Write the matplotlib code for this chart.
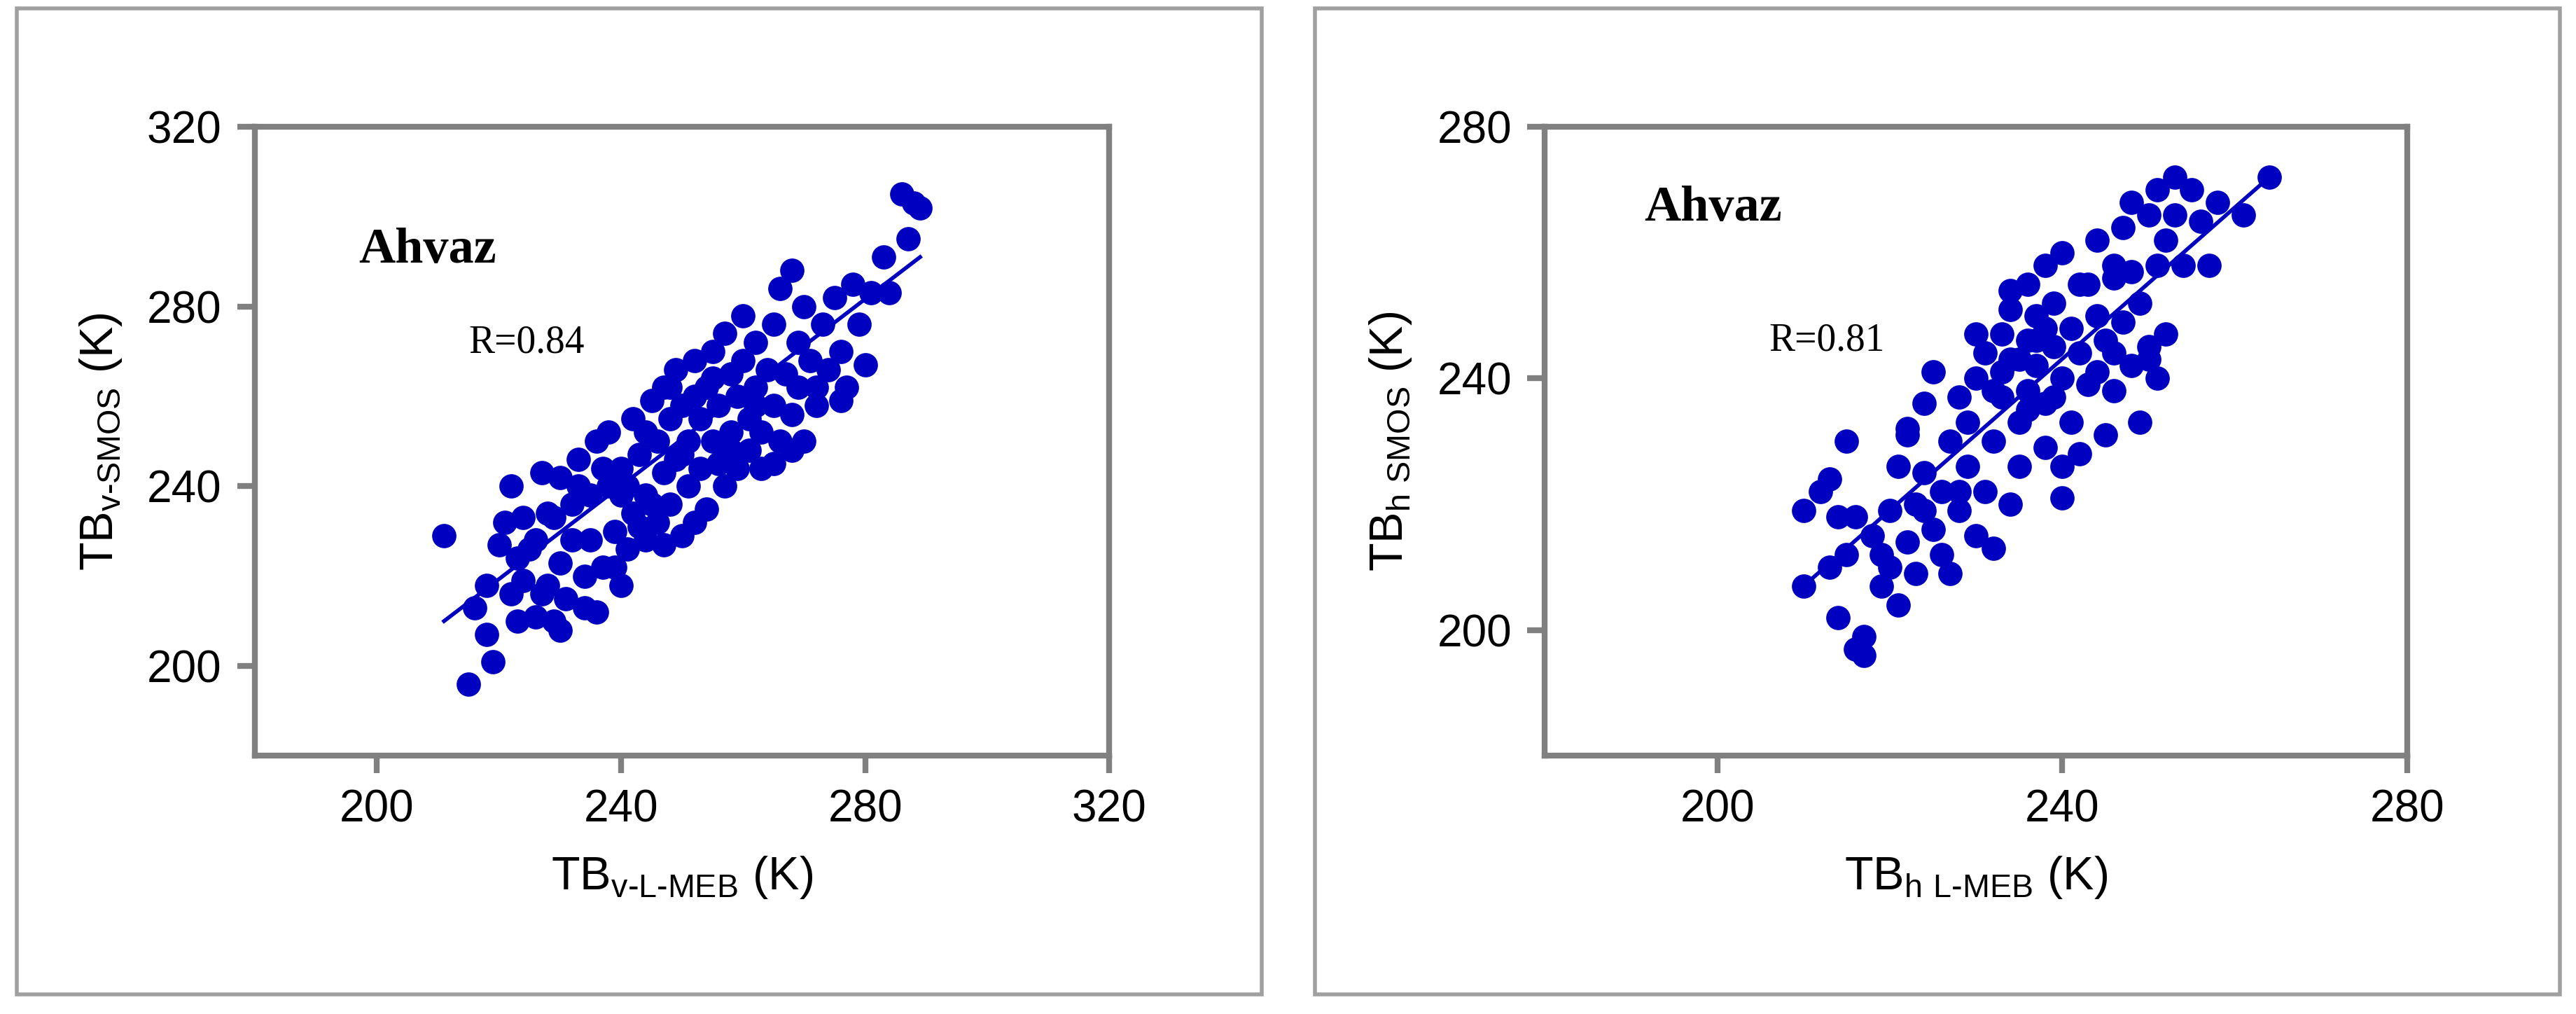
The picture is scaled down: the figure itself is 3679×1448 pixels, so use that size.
import matplotlib.pyplot as plt
from matplotlib.patches import Rectangle

# Left panel: TBv  (L-MEB vs SMOS)
v_pts = [(211,229),(215,196),(218,207),(219,201),(216,213),(218,218),(220,227),(221,232),(222,240),(222,216),
         (223,210),(224,219),(225,226),(226,211),(227,243),(228,234),(228,218),(229,210),(230,223),(230,242),
         (231,215),(232,236),(233,246),(234,213),(235,228),(235,238),(236,250),(237,222),(238,240),(238,252),
         (239,230),(240,244),(240,218),(241,226),(242,255),(242,234),(243,247),(244,238),(244,228),(245,259),
         (246,250),(246,232),(247,262),(247,243),(248,255),(248,236),(249,266),(249,246),(250,258),(250,229),
         (251,250),(251,240),(252,268),(252,260),(253,255),(253,244),(254,235),(254,262),(255,270),(255,250),
         (256,245),(256,258),(257,274),(257,240),(258,265),(258,252),(259,260),(259,244),(260,278),(260,268),
         (261,255),(261,248),(262,272),(262,262),(263,244),(263,252),(264,266),(265,276),(265,258),(266,250),
         (266,284),(267,265),(268,288),(268,256),(269,272),(269,262),(270,280),(270,250),(271,268),(272,258),
         (273,276),(274,266),(275,282),(276,270),(277,262),(278,285),(279,276),(280,267),(281,283),(283,291),
         (284,283),(286,305),(287,295),(288,303),(289,302),(250,247),(245,236),(247,227),(252,232),(243,231),
         (239,222),(236,212),(230,208),(227,216),(224,233),(232,228),(234,220),(258,248),(255,264),(262,258),
         (248,262),(244,252),(241,240),(265,245),(268,248),(272,262),(276,259),(240,238),(237,244),(233,240),
         (229,233),(226,228),(223,224)]
v_fit_x = [211, 289]
v_fit_y = [210, 291]

# Right panel: TBh
h_pts = [(210,219),(210,207),(212,222),(213,224),(214,218),(214,202),(215,212),(215,230),(216,197),(217,196),
         (217,199),(218,215),(219,207),(219,212),(220,219),(220,210),(221,226),(221,204),(222,214),(222,231),
         (223,209),(223,220),(224,236),(224,225),(225,216),(225,241),(226,212),(226,222),(227,230),(227,209),
         (228,237),(228,219),(229,226),(229,233),(230,215),(230,240),(231,222),(231,244),(232,230),(232,213),
         (233,237),(233,247),(234,220),(234,243),(234,251),(235,233),(235,226),(236,246),(236,255),(236,238),
         (237,242),(237,250),(238,229),(238,258),(238,236),(239,245),(239,252),(240,240),(240,260),(240,221),
         (241,248),(241,233),(242,244),(242,255),(243,239),(244,262),(244,250),(245,231),(245,246),(246,256),
         (246,238),(247,264),(247,249),(248,242),(248,257),(248,268),(249,252),(249,233),(250,266),(250,245),
         (251,270),(251,258),(251,240),(252,262),(252,247),(253,272),(253,266),(254,258),(255,270),(256,265),
         (257,258),(258,268),(261,266),(264,272),(242,228),(240,226),(235,243),(237,246),(233,241),(236,235),
         (238,248),(239,237),(244,241),(246,244),(250,243),(246,258),(243,255),(232,238),(230,247),(234,254),
         (228,222),(224,219),(222,232),(216,218),(213,210)]
h_fit_x = [210, 264]
h_fit_y = [207, 272]

blue = '#0000C0'
gray = '#808080'

fig = plt.figure(figsize=(36.8, 14.48), dpi=100)

# outer panel frames
for x0 in (0.0064, 0.5102):
    fig.patches.append(Rectangle((x0, 0.019), 0.4834, 0.973, transform=fig.transFigure,
                                 fill=False, edgecolor='#a0a0a0', lw=4))

panels = [
    (v_pts, v_fit_x, v_fit_y, [0.0989, 0.2545, 0.3316, 0.6205], (180, 320), [200, 240, 280, 320],
     (180, 320), [200, 240, 280, 320], 'TB$_\\mathregular{v‐L‐MEB}$ (K)', 'TB$_\\mathregular{v‐SMOS}$ (K)',
     (197, 292.5), (215, 272), 'R=0.84'),
    (h_pts, h_fit_x, h_fit_y, [0.5995, 0.2545, 0.3348, 0.6205], (180, 280), [200, 240, 280],
     (180, 280), [200, 240, 280], 'TB$_\\mathregular{h\\ L‐MEB}$ (K)', 'TB$_\\mathregular{h\\ SMOS}$ (K)',
     (191.5, 267), (206, 246), 'R=0.81'),
]

for pts, fx, fy, rect, xl, xt, yl, yt, xlab, ylab, apos, rpos, rtxt in panels:
    ax = fig.add_axes(rect)
    xs = [p[0] for p in pts]
    ys = [p[1] for p in pts]
    ax.plot(xs, ys, 'o', color=blue, markersize=25, markeredgewidth=0)
    ax.plot(fx, fy, '-', color=blue, lw=4)
    ax.set_xlim(*xl)
    ax.set_ylim(*yl)
    ax.set_xticks(xt)
    ax.set_yticks(yt)
    for s in ax.spines.values():
        s.set_color(gray)
        s.set_linewidth(6)
    ax.tick_params(direction='out', length=18, width=6, color=gray, labelsize=46, pad=16)
    for lab in ax.get_xticklabels() + ax.get_yticklabels():
        lab.set_family('Liberation Sans')
    ax.set_xlabel(xlab, fontsize=48, family='Liberation Sans', labelpad=24)
    ax.set_ylabel(ylab, fontsize=48, family='Liberation Sans', labelpad=24)
    ax.text(apos[0], apos[1], 'Ahvaz', fontsize=52, fontweight='bold', family='Liberation Serif',
            ha='left', va='center')
    ax.text(rpos[0], rpos[1], rtxt, fontsize=40, family='Liberation Serif', ha='left', va='center')

fig.savefig('out.png', dpi=100)
